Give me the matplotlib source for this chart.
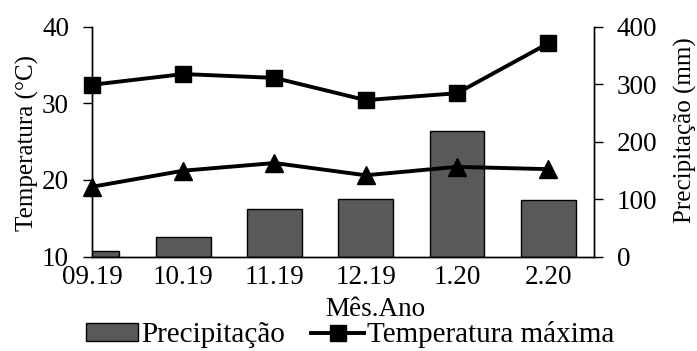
import matplotlib
matplotlib.use("Agg")
import matplotlib.pyplot as plt
import numpy as np

# ── Style ─────────────────────────────────────────────────────────────────────

matplotlib.rcParams.update({
    "font.family": ["Liberation Serif", "DejaVu Serif"],
    "font.size":   19.5,
})

# ── Data ──────────────────────────────────────────────────────────────────────

months     = ["09.19", "10.19", "11.19", "12.19", "1.20", "2.20"]
temp_max   = [32.4, 33.8, 33.3, 30.4, 31.3, 37.8]
temp_min   = [19.1, 21.2, 22.2, 20.6, 21.7, 21.4]
precip_mm  = [10, 34, 82, 100, 218, 99]

temp_ticks   = [10, 20, 30, 40]
precip_ticks = [0, 100, 200, 300, 400]

BAR_COLOUR = "#595959"

# ── Figure ────────────────────────────────────────────────────────────────────

fig = plt.figure(figsize=(6.97, 3.51), dpi=100)
ax = fig.add_axes([0.132, 0.269, 0.72, 0.6555])
axb = ax.twinx()

x = np.arange(len(months))

# bars on the secondary (right) axis, drawn underneath the lines
bars = axb.bar(x, precip_mm, width=0.6, color=BAR_COLOUR,
               edgecolor="black", linewidth=1.0, label="Precipitação")
axb.set_ylim(0, 400)
axb.set_yticks(precip_ticks)

ax.set_zorder(axb.get_zorder() + 1)
ax.patch.set_visible(False)

l_max, = ax.plot(x, temp_max, color="black", linewidth=2.8, marker="s",
                 markersize=12, label="Temperatura máxima", clip_on=False)
ax.plot(x, temp_min, color="black", linewidth=2.8, marker="^",
        markersize=12.5, clip_on=False)

ax.set_ylim(10, 40)
ax.set_yticks(temp_ticks)
ax.set_xlim(0, 5.5)
ax.set_xticks(x)
ax.set_xticklabels(months)

for a in (ax, axb):
    a.spines["top"].set_visible(False)
    a.tick_params(axis="y", direction="out", length=6.5, width=1, pad=10)
    a.tick_params(axis="x", length=0, pad=6)
    for s in a.spines.values():
        s.set_linewidth(1.0)

# axis titles
fig.text(27 / 697, 1 - 143 / 351, "Temperatura (°C)", rotation=90,
         ha="center", va="center", fontsize=18)
fig.text(685 / 697, 1 - 130 / 351, "Precipitação (mm)", rotation=90,
         ha="center", va="center", fontsize=18)
fig.text(375 / 697, 1 - 309 / 351, "Mês.Ano", ha="center", va="center")

fig.legend(handles=[bars, l_max], labels=["Precipitação", "Temperatura máxima"],
           loc="center", bbox_to_anchor=(350 / 697, 1 - 335 / 351), ncol=2,
           frameon=False, fontsize=21, handlelength=1.8, handleheight=0.55,
           handletextpad=0.1, columnspacing=0.9, borderpad=0, borderaxespad=0)

fig.savefig("out.png", dpi=100)
